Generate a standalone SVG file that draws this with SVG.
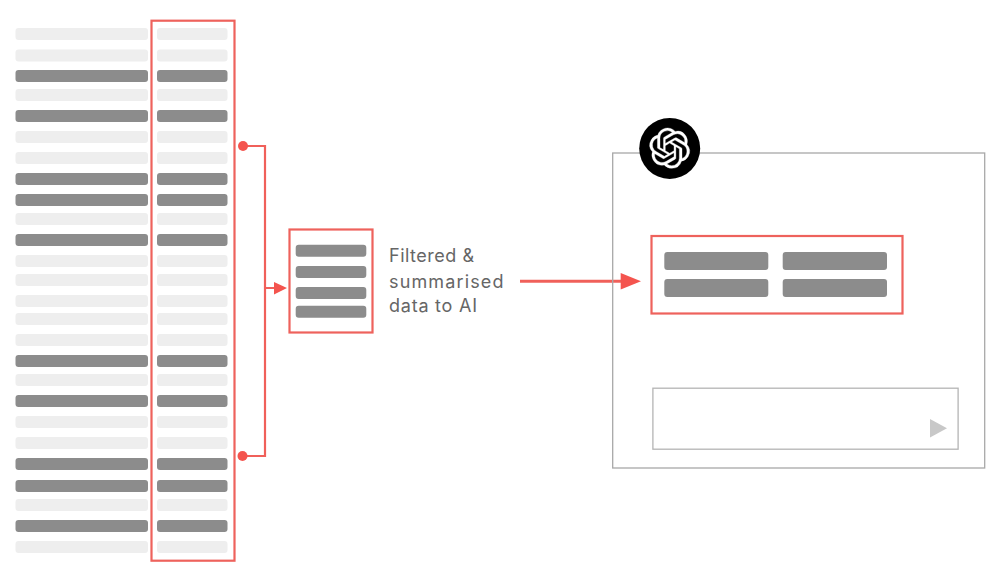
<svg xmlns="http://www.w3.org/2000/svg" width="1000" height="572" viewBox="0 0 1000 572">
<style>
.l{fill:#eeeeee}
.d{fill:#8c8c8c}
.red{fill:none;stroke:#ee625c;stroke-width:2.2}
.line{fill:none;stroke:#f0605a;stroke-width:2.2}
.head{fill:#f4544e}
.t{font-family:"Inter","Open Sans","Liberation Sans",sans-serif;font-size:18px;fill:#666666}
</style>
<defs>
<rect id="a" x="15.5" width="132.5" height="12" rx="3"/>
<rect id="b" x="157" width="70.500" height="12" rx="3"/>
</defs>
<rect width="1000" height="572" fill="#ffffff"/>
<g id="table">
<use href="#a" class="l" y="28"/><use href="#b" class="l" y="28"/>
<use href="#a" class="l" y="49.500"/><use href="#b" class="l" y="49.500"/>
<use href="#a" class="d" y="70"/><use href="#b" class="d" y="70"/>
<use href="#a" class="l" y="89"/><use href="#b" class="l" y="89"/>
<use href="#a" class="d" y="110"/><use href="#b" class="d" y="110"/>
<use href="#a" class="l" y="131"/><use href="#b" class="l" y="131"/>
<use href="#a" class="l" y="152"/><use href="#b" class="l" y="152"/>
<use href="#a" class="d" y="173"/><use href="#b" class="d" y="173"/>
<use href="#a" class="d" y="194"/><use href="#b" class="d" y="194"/>
<use href="#a" class="l" y="213"/><use href="#b" class="l" y="213"/>
<use href="#a" class="d" y="234"/><use href="#b" class="d" y="234"/>
<use href="#a" class="l" y="255"/><use href="#b" class="l" y="255"/>
<use href="#a" class="l" y="274"/><use href="#b" class="l" y="274"/>
<use href="#a" class="l" y="295"/><use href="#b" class="l" y="295"/>
<use href="#a" class="l" y="313"/><use href="#b" class="l" y="313"/>
<use href="#a" class="l" y="334"/><use href="#b" class="l" y="334"/>
<use href="#a" class="d" y="355"/><use href="#b" class="d" y="355"/>
<use href="#a" class="l" y="374"/><use href="#b" class="l" y="374"/>
<use href="#a" class="d" y="395"/><use href="#b" class="d" y="395"/>
<use href="#a" class="l" y="416"/><use href="#b" class="l" y="416"/>
<use href="#a" class="l" y="437"/><use href="#b" class="l" y="437"/>
<use href="#a" class="d" y="458"/><use href="#b" class="d" y="458"/>
<use href="#a" class="d" y="480"/><use href="#b" class="d" y="480"/>
<use href="#a" class="l" y="499"/><use href="#b" class="l" y="499"/>
<use href="#a" class="d" y="520"/><use href="#b" class="d" y="520"/>
<use href="#a" class="l" y="541"/><use href="#b" class="l" y="541"/>
<rect id="column-highlight" class="red" x="151.500" y="20.700" width="83" height="540"/>
</g>
<g id="connectors">
<path class="line" d="M243 146H265V456H243M265 288H276"/>
<circle class="head" cx="243" cy="146" r="5"/>
<circle class="head" cx="242.500" cy="456" r="5"/>
<path class="head" d="M274 282L287 288L274 294.500Z"/>
<path fill="none" stroke="#f0605a" stroke-width="3" d="M520 281.300H622"/>
<path class="head" d="M620.700 273L641 281.300L620.700 289.500Z"/>
</g>
<g id="filtered-data">
<rect class="red" x="289.500" y="229.500" width="83" height="103"/>
<rect class="d" x="295.700" y="244.700" width="70.600" height="12" rx="3"/>
<rect class="d" x="295.700" y="266" width="70.600" height="12" rx="3"/>
<rect class="d" x="295.700" y="287" width="70.600" height="12" rx="3"/>
<rect class="d" x="295.700" y="305.700" width="70.600" height="12" rx="3"/>
</g>
<g id="label">
<text class="t" x="389" y="262" textLength="85">Filtered &amp;</text>
<text class="t" x="389" y="287.500" textLength="114.500">summarised</text>
<text class="t" x="389" y="312" textLength="88">data to AI</text>
</g>
<g id="chat-window">
<rect x="612.700" y="153" width="372" height="315" fill="none" stroke="#a8a8a8" stroke-width="1.300"/>
<circle cx="669.700" cy="148.400" r="30.500" fill="#000000"/>
<path transform="translate(649.500 128) scale(1.680)" fill="#ffffff" stroke="#ffffff" stroke-width="0.200" d="M22.2819 9.8211a5.9847 5.9847 0 0 0-.5157-4.9108 6.0462 6.0462 0 0 0-6.5098-2.9A6.0651 6.0651 0 0 0 4.9807 4.1818a5.9847 5.9847 0 0 0-3.9977 2.9 6.0462 6.0462 0 0 0 .7427 7.0966 5.98 5.98 0 0 0 .511 4.9107 6.051 6.051 0 0 0 6.5146 2.9001A5.9847 5.9847 0 0 0 13.2599 24a6.0557 6.0557 0 0 0 5.7718-4.2058 5.9894 5.9894 0 0 0 3.9977-2.9001 6.0557 6.0557 0 0 0-.7475-7.0729zm-9.022 12.6081a4.4755 4.4755 0 0 1-2.8764-1.0408l.1419-.0804 4.7783-2.7582a.7948.7948 0 0 0 .3927-.6813v-6.7369l2.02 1.1686a.071.071 0 0 1 .038.052v5.5826a4.504 4.504 0 0 1-4.4945 4.4944zm-9.6607-4.1254a4.4708 4.4708 0 0 1-.5346-3.0137l.142.0852 4.783 2.7582a.7712.7712 0 0 0 .7806 0l5.8428-3.3685v2.3324a.0804.0804 0 0 1-.0332.0615L9.74 19.9502a4.4992 4.4992 0 0 1-6.1408-1.6464zM2.3408 7.8956a4.485 4.485 0 0 1 2.3655-1.9728V11.6a.7664.7664 0 0 0 .3879.6765l5.8144 3.3543-2.0201 1.1685a.0757.0757 0 0 1-.071 0l-4.8303-2.7865A4.504 4.504 0 0 1 2.3408 7.872zm16.5963 3.8558L13.1038 8.364 15.1192 7.2a.0757.0757 0 0 1 .071 0l4.8303 2.7913a4.4944 4.4944 0 0 1-.6765 8.1042v-5.6772a.79.79 0 0 0-.407-.667zm2.0107-3.0231l-.142-.0852-4.7735-2.7818a.7759.7759 0 0 0-.7854 0L9.409 9.2297V6.8974a.0662.0662 0 0 1 .0284-.0615l4.8303-2.7866a4.4992 4.4992 0 0 1 6.6802 4.66zM8.3065 12.863l-2.02-1.1638a.0804.0804 0 0 1-.038-.0567V6.0742a4.4992 4.4992 0 0 1 7.3757-3.4537l-.142.0805L8.704 5.459a.7948.7948 0 0 0-.3927.6813zm1.0976-2.3654l2.602-1.4998 2.6069 1.4998v2.9994l-2.5974 1.4997-2.6067-1.4997Z"/>
<rect class="red" x="651.500" y="236" width="251" height="77.500"/>
<rect class="d" x="664.300" y="252" width="104" height="18" rx="3"/>
<rect class="d" x="782.700" y="252" width="104.300" height="18" rx="3"/>
<rect class="d" x="664.300" y="279" width="104" height="18" rx="3"/>
<rect class="d" x="782.700" y="279" width="104.300" height="18" rx="3"/>
<rect x="652.900" y="388.200" width="305.200" height="61" fill="none" stroke="#b4b4b4" stroke-width="1.300"/>
<path d="M930 419L947 428.200L930 437.400Z" fill="#c8c8c8"/>
</g>
</svg>
